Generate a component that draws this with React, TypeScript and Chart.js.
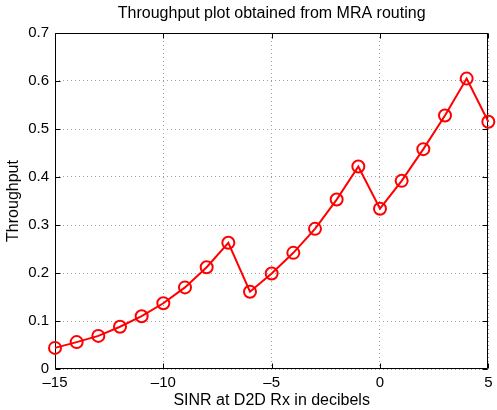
import React, { useEffect, useRef } from "react";
import { Chart, registerables } from "chart.js";

Chart.register(...registerables);

const chartTitle = "Throughput plot obtained from MRA routing";
const xAxisTitle = "SINR at D2D Rx in decibels";
const yAxisTitle = "Throughput";

const sinrDb = [-15, -14, -13, -12, -11, -10, -9, -8, -7, -6, -5, -4, -3, -2, -1, 0, 1, 2, 3, 4, 5];
const throughput = [
  0.044, 0.056, 0.069, 0.088, 0.110, 0.137, 0.170, 0.212, 0.263, 0.161, 0.199,
  0.242, 0.292, 0.353, 0.422, 0.334, 0.392, 0.458, 0.528, 0.605, 0.515,
];
const xTickValues = [-15, -10, -5, 0, 5];
const yTickValues = [0, 0.1, 0.2, 0.3, 0.4, 0.5, 0.6, 0.7];

const FONT = "'Liberation Sans', Arial, Helvetica, sans-serif";

const matlabBox = {
  id: "matlabBox",
  beforeDatasetsDraw(chart: any) {
    const { ctx, chartArea, scales } = chart;
    const { left, right, top, bottom } = chartArea;
    const L = Math.round(left) + 0.5;
    const R = Math.round(right) - 0.5;
    const T = Math.round(top) + 0.5;
    const B = Math.round(bottom) - 0.5;
    const tl = 5;
    ctx.save();
    ctx.strokeStyle = "#000";
    ctx.lineWidth = 1;
    ctx.setLineDash([]);
    ctx.beginPath();
    ctx.rect(L, T, R - L, B - T);
    for (const v of xTickValues) {
      const px = Math.round(scales.x.getPixelForValue(v)) + 0.5;
      ctx.moveTo(px, B);
      ctx.lineTo(px, B - tl);
      ctx.moveTo(px, T);
      ctx.lineTo(px, T + tl);
    }
    for (const v of yTickValues) {
      const py = Math.round(scales.y.getPixelForValue(v)) + 0.5;
      ctx.moveTo(L, py);
      ctx.lineTo(L + tl, py);
      ctx.moveTo(R, py);
      ctx.lineTo(R - tl, py);
    }
    ctx.stroke();
    ctx.restore();
  },
};

export default function App() {
  const ref = useRef<HTMLCanvasElement | null>(null);

  useEffect(() => {
    if (!ref.current) return;
    const chart = new Chart(ref.current, {
      type: "line",
      data: {
        datasets: [
          {
            label: yAxisTitle,
            data: sinrDb.map((x, i) => ({ x, y: throughput[i] })),
            borderColor: "#ff0000",
            borderWidth: 2,
            backgroundColor: "rgba(0,0,0,0)",
            pointStyle: "circle",
            pointRadius: 6,
            pointBorderWidth: 2,
            pointBorderColor: "#ff0000",
            pointBackgroundColor: "rgba(0,0,0,0)",
            pointHoverRadius: 6,
            tension: 0,
            fill: false,
            clip: false as any,
          },
        ],
      },
      options: {
        responsive: false,
        animation: false,
        events: [],
        layout: { padding: { left: 0, right: 8, top: 0, bottom: 0 } },
        plugins: {
          legend: { display: false },
          tooltip: { enabled: false },
          title: {
            display: true,
            fullSize: false,
            text: chartTitle,
            color: "#000",
            font: { family: FONT, size: 16, weight: "normal" as any, lineHeight: 1.2 },
            padding: { top: 4, bottom: 9.8 },
          },
        },
        scales: {
          x: {
            type: "linear",
            min: -15,
            max: 5,
            afterBuildTicks: (s: any) => {
              s.ticks = xTickValues.map((v) => ({ value: v }));
            },
            afterFit: (s: any) => {
              s.height = 41;
            },
            ticks: {
              color: "#000",
              font: { family: FONT, size: 15 },
              padding: 4.5,
              maxRotation: 0,
              autoSkip: false,
              callback: (v: any) => (Number(v) < 0 ? "\u2013" + Math.abs(Number(v)) : String(v)),
            },
            grid: { color: "#a0a0a0", lineWidth: 1, drawTicks: false },
            border: { display: false, dash: [1, 3] },
            title: {
              display: true,
              text: xAxisTitle,
              color: "#000",
              font: { family: FONT, size: 16, lineHeight: 1.2 },
              padding: { top: 0, bottom: 0 },
            },
          },
          y: {
            type: "linear",
            min: 0,
            max: 0.7,
            afterBuildTicks: (s: any) => {
              s.ticks = yTickValues.map((v) => ({ value: v }));
            },
            afterFit: (s: any) => {
              s.width = 55;
            },
            ticks: {
              color: "#000",
              font: { family: FONT, size: 15 },
              padding: 6,
              autoSkip: false,
              callback: (v: any) => (Number(v) === 0 ? "0" : Number(v).toFixed(1)),
            },
            grid: { color: "#a0a0a0", lineWidth: 1, drawTicks: false },
            border: { display: false, dash: [1, 3] },
            title: {
              display: true,
              text: yAxisTitle,
              color: "#000",
              font: { family: FONT, size: 16, lineHeight: 1.2 },
              padding: { top: 3.6, bottom: 0 },
            },
          },
        },
      },
      plugins: [matlabBox],
    });
    return () => chart.destroy();
  }, []);

  return (
    <div style={{ position: "absolute", left: 0, top: 0, width: 497, height: 410, background: "#fff" }}>
      <canvas ref={ref} width={497} height={410} style={{ display: "block" }} />
    </div>
  );
}
